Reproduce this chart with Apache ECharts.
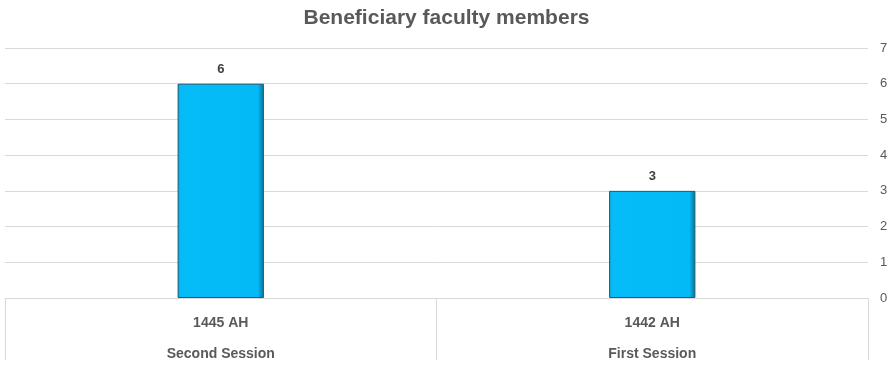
<!DOCTYPE html>
<html><head><meta charset="utf-8">
<script src="https://cdn.jsdelivr.net/npm/echarts@6/dist/echarts.min.js"></script>
<style>html,body{margin:0;padding:0;background:#fff}#c{width:893px;height:368px}</style>
</head><body><div id="c"></div>
<script>
const years = ['1445 AH', '1442 AH'];
const sessions = ['Second Session', 'First Session'];
const values = [6, 3];
const yTicks = [0, 1, 2, 3, 4, 5, 6, 7];
const titleText = 'Beneficiary faculty members';

const FONT = '"Liberation Sans Narrow", "Liberation Sans", "Open Sans", sans-serif';
const chart = echarts.init(document.getElementById('c'));
chart.setOption({
  animation: false,
  title: { text: titleText, left: 'center', top: 3,
    textStyle: { fontFamily: FONT, fontSize: 21, fontWeight: 'bold', color: '#595959' } },
  grid: { left: 5, right: 25, top: 48, bottom: 70, outerBoundsMode: 'none', containLabel: false },
  xAxis: {
    type: 'category',
    data: years.map((y, i) => y + '\n' + sessions[i]),
    axisLine: { lineStyle: { color: '#d9d9d9' } },
    axisTick: { show: true, length: 62, lineStyle: { color: '#d9d9d9' } },
    axisLabel: { fontFamily: FONT, fontSize: 14, fontWeight: 'bold', color: '#595959',
      lineHeight: 31, margin: 10 }
  },
  yAxis: {
    type: 'value', position: 'right', min: yTicks[0], max: yTicks[yTicks.length - 1], interval: 1,
    axisLine: { show: false }, axisTick: { show: false },
    splitLine: { lineStyle: { color: '#d9d9d9' } },
    axisLabel: { fontFamily: FONT, fontSize: 13, color: '#595959', margin: 12 }
  },
  series: [{
    type: 'bar', data: values, barWidth: '20%',
    itemStyle: {
      color: { type: 'linear', x: 0, y: 0, x2: 1, y2: 0, colorStops: [
        { offset: 0, color: '#11a6d9' }, { offset: 0.04, color: '#06BCF8' },
        { offset: 0.93, color: '#03B9F6' }, { offset: 1, color: '#0b6f93' } ] },
      borderColor: '#155e78', borderWidth: 1
    },
    label: { show: true, position: 'top', distance: 8, fontFamily: FONT, fontSize: 13,
      fontWeight: 'bold', color: '#404040' }
  }]
});
</script></body></html>
